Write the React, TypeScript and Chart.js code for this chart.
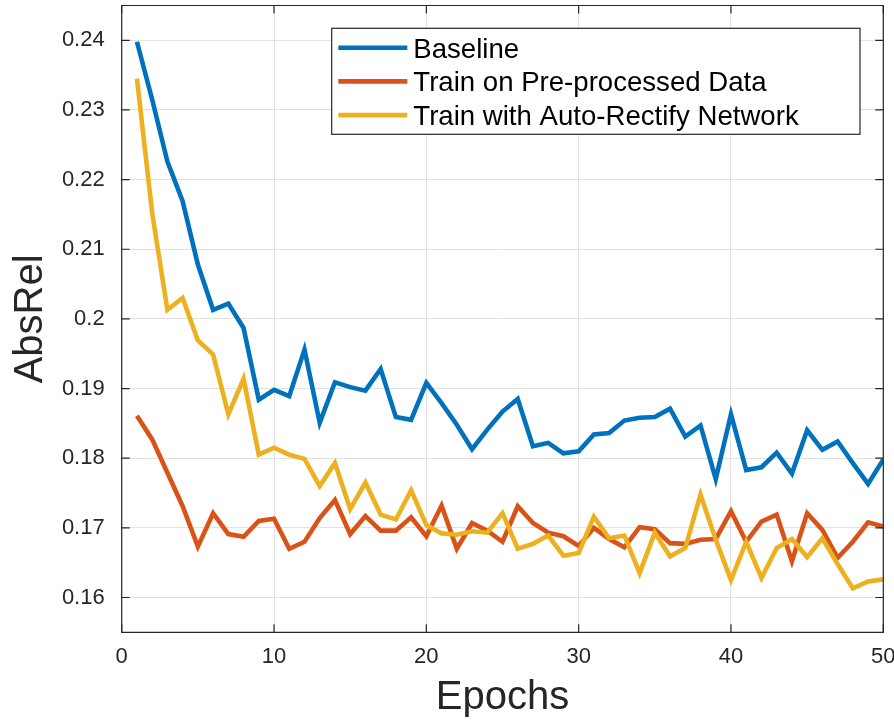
import React, { useEffect, useRef } from "react";
import { Chart, registerables } from "chart.js";

Chart.register(...registerables);

// ---------- data ----------
const epochs = [
  1, 2, 3, 4, 5, 6, 7, 8, 9, 10, 11, 12, 13, 14, 15, 16, 17, 18, 19, 20, 21, 22, 23, 24, 25,
  26, 27, 28, 29, 30, 31, 32, 33, 34, 35, 36, 37, 38, 39, 40, 41, 42, 43, 44, 45, 46, 47, 48, 49, 50,
];

const baseline = [
  0.2398, 0.2315, 0.2226, 0.2169, 0.2078, 0.2013, 0.2022, 0.1987, 0.1884, 0.1898,
  0.1889, 0.1956, 0.1851, 0.1909, 0.1902, 0.1897, 0.1928, 0.1859, 0.1855, 0.1908,
  0.1879, 0.1848, 0.1813, 0.1841, 0.1867, 0.1885, 0.1817, 0.1822, 0.1807, 0.181,
  0.1834, 0.1836, 0.1854, 0.1858, 0.1859, 0.1871, 0.1831, 0.1847, 0.177, 0.1863,
  0.1783, 0.1787, 0.1808, 0.1778, 0.184, 0.1812, 0.1824, 0.1793, 0.1763, 0.1798,
];

const preProcessed = [
  0.1861, 0.1827, 0.1779, 0.1731, 0.1673, 0.1721, 0.1691, 0.1687, 0.171, 0.1713,
  0.167, 0.168, 0.1714, 0.174, 0.1691, 0.1717, 0.1696, 0.1696, 0.1715, 0.1688,
  0.1732, 0.167, 0.1707, 0.1696, 0.168, 0.1731, 0.1707, 0.1693, 0.1688, 0.1674,
  0.17, 0.1684, 0.1672, 0.1701, 0.1698, 0.1678, 0.1677, 0.1683, 0.1684, 0.1724,
  0.168, 0.1709, 0.1719, 0.1652, 0.1721, 0.1697, 0.1657, 0.168, 0.1708, 0.1702,
];

const autoRectify = [
  0.2345, 0.2152, 0.2013, 0.203, 0.1969, 0.1949, 0.1863, 0.1914, 0.1805, 0.1815,
  0.1805, 0.1799, 0.176, 0.1793, 0.1727, 0.1765, 0.1719, 0.1712, 0.1754, 0.1704,
  0.1692, 0.169, 0.1695, 0.1693, 0.1721, 0.167, 0.1677, 0.1689, 0.166, 0.1664,
  0.1716, 0.1685, 0.1689, 0.1635, 0.1693, 0.1659, 0.1671, 0.1748, 0.1683, 0.1625,
  0.168, 0.1628, 0.1671, 0.1684, 0.1658, 0.1685, 0.1648, 0.1613, 0.1623, 0.1626,
];

const seriesLabels = [
  "Baseline",
  "Train on Pre-processed Data",
  "Train with Auto-Rectify Network",
];
const seriesColors = ["#0072BD", "#D95319", "#EDB120"];

const xTicks = [0, 10, 20, 30, 40, 50];
const yTicks = [0.16, 0.17, 0.18, 0.19, 0.2, 0.21, 0.22, 0.23, 0.24];
const xRange = [0, 50];
const yRange = [0.155, 0.245];

const FONT = "'Liberation Sans', Arial, Helvetica, sans-serif";
const AXIS_COLOR = "#262626";

// ---------- plugins ----------
const matlabAxes = {
  id: "matlabAxes",
  afterDatasetsDraw(chart: any) {
    const { ctx, chartArea, scales } = chart;
    const { left, right, top, bottom } = chartArea;
    const tl = 8;
    ctx.save();
    ctx.strokeStyle = AXIS_COLOR;
    ctx.lineWidth = 1.2;
    ctx.beginPath();
    ctx.rect(left, top, right - left, bottom - top);
    ctx.stroke();
    ctx.beginPath();
    for (const v of xTicks) {
      const px = scales.x.getPixelForValue(v);
      ctx.moveTo(px, bottom);
      ctx.lineTo(px, bottom - tl);
      ctx.moveTo(px, top);
      ctx.lineTo(px, top + tl);
    }
    for (const v of yTicks) {
      const py = scales.y.getPixelForValue(v);
      ctx.moveTo(left, py);
      ctx.lineTo(left + tl, py);
      ctx.moveTo(right, py);
      ctx.lineTo(right - tl, py);
    }
    ctx.stroke();
    ctx.restore();
  },
};

const matlabLegend = {
  id: "matlabLegend",
  afterDraw(chart: any) {
    const { ctx, chartArea } = chart;
    const boxLeft = chartArea.left + 210;
    const boxTop = chartArea.top + 22.8;
    const boxRight = chartArea.right - 23.3;
    const rowH = 33.7;
    const boxBottom = boxTop + 106;
    ctx.save();
    ctx.fillStyle = "#ffffff";
    ctx.fillRect(boxLeft, boxTop, boxRight - boxLeft, boxBottom - boxTop);
    ctx.strokeStyle = AXIS_COLOR;
    ctx.lineWidth = 1.2;
    ctx.strokeRect(boxLeft, boxTop, boxRight - boxLeft, boxBottom - boxTop);
    ctx.font = `27.6px ${FONT}`;
    ctx.textBaseline = "alphabetic";
    ctx.textAlign = "left";
    chart.data.datasets.forEach((ds: any, i: number) => {
      const cy = boxTop + 19.4 + i * rowH;
      ctx.strokeStyle = ds.borderColor;
      ctx.lineWidth = 4.6;
      ctx.beginPath();
      ctx.moveTo(boxLeft + 6.6, cy);
      ctx.lineTo(boxLeft + 75.6, cy);
      ctx.stroke();
      ctx.fillStyle = "#000000";
      ctx.fillText(ds.label, boxLeft + 81.6, cy + 9.9);
    });
    ctx.restore();
  },
};

// ---------- component ----------
export default function App() {
  const canvasRef = useRef<HTMLCanvasElement | null>(null);

  useEffect(() => {
    if (!canvasRef.current) return;
    const series = [baseline, preProcessed, autoRectify];
    const chart = new Chart(canvasRef.current, {
      type: "line",
      data: {
        datasets: series.map((vals, i) => ({
          label: seriesLabels[i],
          data: epochs.map((e, j) => ({ x: e, y: vals[j] })),
          borderColor: seriesColors[i],
          backgroundColor: seriesColors[i],
          borderWidth: 4.6,
          pointRadius: 0,
          tension: 0,
          fill: false,
          order: 2 - i,
        })),
      },
      options: {
        responsive: false,
        animation: false,
        events: [],
        layout: { padding: { top: 5.5, right: 10.7, left: 0, bottom: 0 } },
        plugins: {
          legend: { display: false },
          tooltip: { enabled: false },
          title: { display: false },
        },
        scales: {
          x: {
            type: "linear",
            min: xRange[0],
            max: xRange[1],
            afterBuildTicks: (s: any) => {
              s.ticks = xTicks.map((v) => ({ value: v }));
            },
            afterFit: (s: any) => {
              s.height = 90.7;
              s.paddingLeft = 0;
              s.paddingRight = 0;
            },
            border: { display: false },
            grid: { color: "#e2e2e2", lineWidth: 1, drawTicks: false },
            ticks: {
              padding: 11.5,
              color: AXIS_COLOR,
              font: { family: FONT, size: 22 },
              maxRotation: 0,
              autoSkip: false,
              callback: (v: any) => String(v),
            },
            title: {
              display: true,
              text: "Epochs",
              color: AXIS_COLOR,
              font: { family: FONT, size: 40 },
              padding: { top: 0, bottom: 1 },
            },
          },
          y: {
            type: "linear",
            min: yRange[0],
            max: yRange[1],
            afterBuildTicks: (s: any) => {
              s.ticks = yTicks.map((v) => ({ value: v }));
            },
            afterFit: (s: any) => {
              s.width = 121.7;
              s.paddingTop = 0;
              s.paddingBottom = 0;
            },
            border: { display: false },
            grid: { color: "#e2e2e2", lineWidth: 1, drawTicks: false },
            ticks: {
              padding: 17,
              color: AXIS_COLOR,
              font: { family: FONT, size: 22 },
              autoSkip: false,
              callback: (v: any) => String(Number(Number(v).toFixed(3))),
            },
            title: {
              display: true,
              text: "AbsRel",
              color: AXIS_COLOR,
              font: { family: FONT, size: 40 },
              padding: { top: 7, bottom: 0 },
            },
          },
        },
      },
      plugins: [matlabAxes, matlabLegend],
    });
    return () => chart.destroy();
  }, []);

  return (
    <div style={{ position: "fixed", left: 0, top: 0, width: 894, height: 723, background: "#ffffff" }}>
      <canvas ref={canvasRef} width={894} height={723} style={{ display: "block" }} />
    </div>
  );
}
